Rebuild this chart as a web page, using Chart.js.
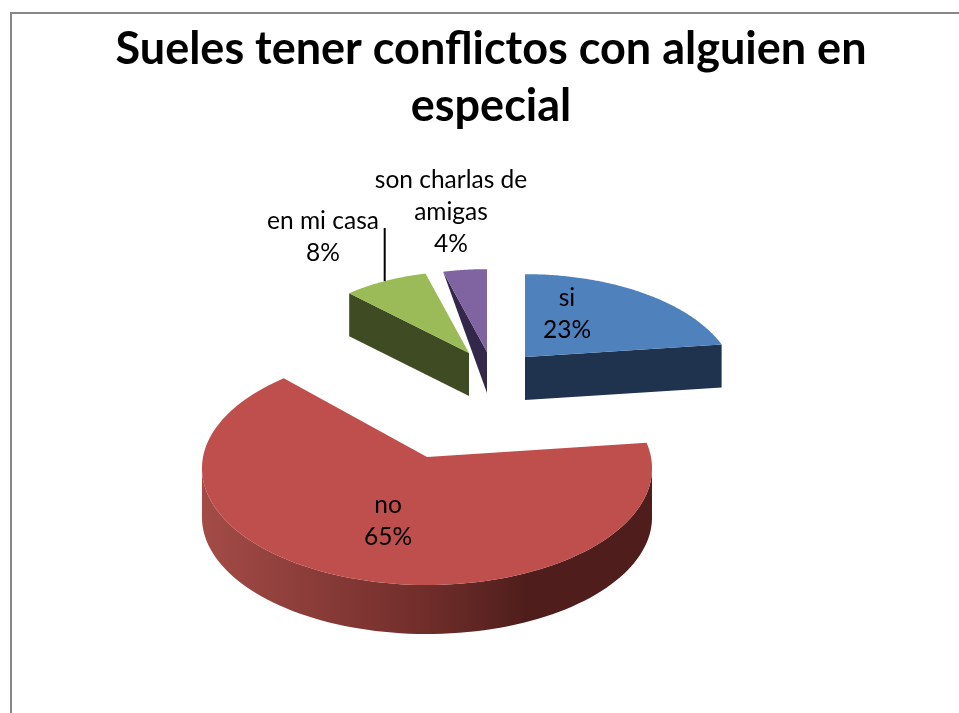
<!DOCTYPE html>
<html>
<head>
<meta charset="utf-8">
<style>
  html, body { margin: 0; padding: 0; background: #fff; }
  canvas { display: block; filter: blur(0.5px); }
</style>
<script src="https://cdn.jsdelivr.net/npm/chart.js@4"></script>
</head>
<body>
<canvas id="chart" width="959" height="713"></canvas>
<script>
const titleLines = ['Sueles tener conflictos con alguien en', 'especial'];
const categories = ['si', 'no', 'en mi casa', 'son charlas de amigas'];
const values = [23, 65, 8, 4];
const topColors = ['#4f81bd', '#be4f4c', '#9bbb59', '#8064a2'];
const sideColors = ['#1f324e', '#4f1e1c', '#3f4b23', '#33284a'];

// label text wrapped the way the picture wraps it
const labelLines = [['si'], ['no'], ['en mi casa'], ['son charlas de', 'amigas']];

// exploded 3d look: where each slice sits, relative to the pie centre and radius
const shiftX = [34, -64, -22, -4];
const shiftY = [-63, 37, -67, -68];
const radiusX = [0.73, 0.8, 0.625, 0.63];
const radiusY = [0.37, 0.413, 0.293, 0.296];
const tilt = [0.25, 0.0966, 0, 0];
const depth = [43, 49, 43, 41];
const sideKind = ['end', 'rim', 'start', 'taper'];
const drawOrder = [3, 2, 0, 1];

// label centres, relative to the pie centre
const labelX = [76, -103, -168, -40];
const labelY = [-122, 85, -199, -240];
const labelLineHeight = 32;

const project = (el, i, angle, r = 1) => {
  const R = el.outerRadius;
  const u = Math.cos(angle) * r;
  const v = Math.sin(angle) * r;
  const w = 1 - tilt[i] * v;
  return {
    x: el.x + shiftX[i] + (R * radiusX[i] * u) / w,
    y: el.y + shiftY[i] + (R * radiusY[i] * v) / w,
  };
};

const rimPoints = (el, i) => {
  const pts = [];
  const steps = 120;
  for (let s = 0; s <= steps; s++) {
    pts.push(project(el, i, el.startAngle + ((el.endAngle - el.startAngle) * s) / steps));
  }
  return pts;
};

const fillPolygon = (ctx, pts, fill) => {
  ctx.beginPath();
  pts.forEach((p, n) => (n ? ctx.lineTo(p.x, p.y) : ctx.moveTo(p.x, p.y)));
  ctx.closePath();
  ctx.fillStyle = fill;
  ctx.fill();
};

const drop = (p, d) => ({ x: p.x, y: p.y + d });

const drawSide = (ctx, el, i) => {
  const d = depth[i];
  const apex = project(el, i, 0, 0);
  const kind = sideKind[i];
  if (kind === 'rim') {
    const rim = rimPoints(el, i);
    const xs = rim.map((p) => p.x);
    const from = xs.indexOf(Math.max(...xs));
    const to = xs.indexOf(Math.min(...xs));
    const front = rim.slice(from, to + 1);
    const left = front[front.length - 1].x;
    const right = front[0].x;
    const grad = ctx.createLinearGradient(left, 0, right, 0);
    grad.addColorStop(0, '#a44b47');
    grad.addColorStop(0.5, '#702d2a');
    grad.addColorStop(0.72, sideColors[i]);
    grad.addColorStop(1, sideColors[i]);
    fillPolygon(ctx, front.concat(front.map((p) => drop(p, d)).reverse()), grad);
  } else if (kind === 'taper') {
    const corner = project(el, i, el.startAngle);
    fillPolygon(ctx, [corner, apex, drop(apex, d)], sideColors[i]);
  } else {
    const corner = project(el, i, kind === 'end' ? el.endAngle : el.startAngle);
    fillPolygon(ctx, [corner, apex, drop(apex, d), drop(corner, d)], sideColors[i]);
  }
};

const pie3d = {
  id: 'pie3d',
  beforeDatasetDraw(chart, args) {
    const ctx = chart.ctx;
    const arcs = args.meta.data;
    ctx.save();
    drawOrder.forEach((i) => {
      drawSide(ctx, arcs[i], i);
      const top = rimPoints(arcs[i], i);
      top.push(project(arcs[i], i, 0, 0));
      fillPolygon(ctx, top, arcs[i].options.backgroundColor);
    });
    ctx.restore();
    return false;
  },
  afterDraw(chart) {
    const ctx = chart.ctx;
    const arcs = chart.getDatasetMeta(0).data;
    const el = arcs[0];

    // leader line of the "en mi casa" label
    const mid = (arcs[2].startAngle + arcs[2].endAngle) / 2;
    const end = project(arcs[2], 2, mid);
    ctx.save();
    ctx.strokeStyle = '#000';
    ctx.lineWidth = 2;
    ctx.beginPath();
    ctx.moveTo(end.x, end.y);
    ctx.lineTo(end.x, 228);
    ctx.stroke();

    ctx.fillStyle = '#000';
    ctx.font = '24.5px Lato';
    ctx.textAlign = 'center';
    ctx.textBaseline = 'middle';
    categories.forEach((c, i) => {
      const lines = labelLines[i].concat(values[i] + '%');
      lines.forEach((line, n) => {
        ctx.fillText(line, el.x + labelX[i], el.y + labelY[i] + n * labelLineHeight);
      });
    });
    ctx.restore();
  },
  beforeDraw(chart) {
    // frame of the pasted sheet, cut off by the right and bottom edges
    const ctx = chart.ctx;
    ctx.save();
    ctx.strokeStyle = '#868686';
    ctx.lineWidth = 2;
    ctx.beginPath();
    ctx.moveTo(11, 713);
    ctx.lineTo(11, 13);
    ctx.lineTo(959, 13);
    ctx.stroke();
    ctx.restore();
  },
};

new Chart(document.getElementById('chart'), {
  type: 'pie',
  data: {
    labels: categories,
    datasets: [{ data: values, backgroundColor: topColors, borderWidth: 0 }],
  },
  options: {
    responsive: false,
    animation: false,
    layout: { padding: { top: 21, left: 23, bottom: 13 } },
    plugins: {
      legend: { display: false },
      tooltip: { enabled: false },
      title: {
        display: true,
        text: titleLines,
        color: '#000',
        font: { family: 'Lato', size: 45, weight: 'bold', lineHeight: 1.267 },
        padding: { top: 0, bottom: 5 },
      },
    },
  },
  plugins: [pie3d],
});
</script>
</body>
</html>
